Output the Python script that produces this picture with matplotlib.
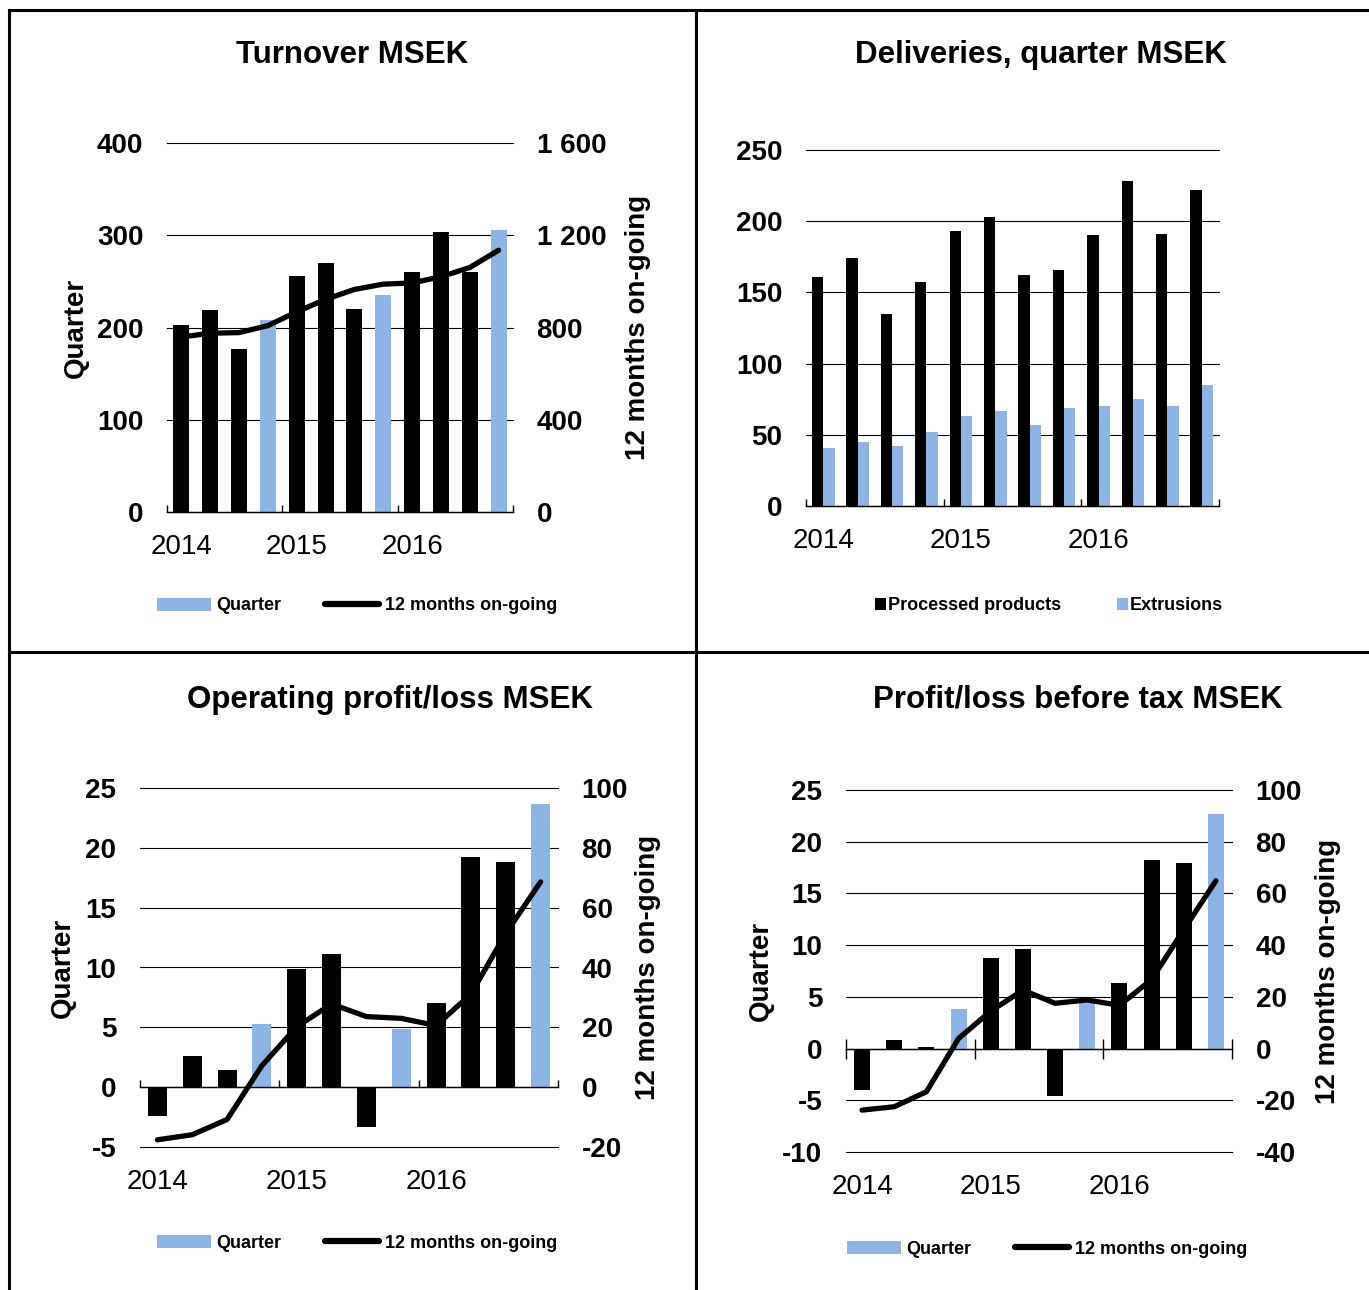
import numpy as np
import matplotlib
matplotlib.use("Agg")
import matplotlib.pyplot as plt
from matplotlib.lines import Line2D
from matplotlib.patches import Patch

plt.rcParams["font.family"] = ["Liberation Sans", "DejaVu Sans"]

# === data (MSEK per quarter, 2014 Q1 .. 2016 Q4) ===
years = ["2014", "2015", "2016"]

turnover_q = [203, 219, 177, 208, 256, 270, 220, 235, 260, 303, 260, 306]
turnover_12m = [759, 775, 778, 808, 868, 922, 965, 988, 993, 1020, 1060, 1135]

deliv_processed = [161, 174, 135, 157, 193, 203, 162, 166, 190, 228, 191, 222]
deliv_extrusions = [41, 45, 42, 52, 63, 67, 57, 69, 70, 75, 70, 85]

oper_q = [-2.4, 2.6, 1.4, 5.3, 9.9, 11.1, -3.3, 4.9, 7.0, 19.2, 18.8, 23.7]
oper_12m = [-17.6, -15.9, -10.8, 7.2, 20.2, 27.8, 23.6, 23.0, 20.6, 31.1, 51.4, 68.6]

ptax_q = [-4.0, 0.8, 0.2, 3.8, 8.8, 9.6, -4.6, 4.6, 6.3, 18.2, 17.9, 22.7]
ptax_12m = [-23.8, -22.5, -16.7, 3.9, 14.5, 22.6, 17.5, 18.8, 16.7, 26.7, 46.0, 64.9]

BLUE = "#8DB4E2"
W, H = 1369, 1290

fig = plt.figure(figsize=(W / 100, H / 100), dpi=100)


def px_rect(x0, y0, x1, y1):
    # pixel box -> figure fraction
    return [x0 / W, 1 - y1 / H, (x1 - x0) / W, (y1 - y0) / H]


def fmt(v):
    return f"{int(v):,}".replace(",", " ")


def base_axes(rect, ylim, step, year_pad=16, tick_dir="in", tick_len=5):
    ax = fig.add_axes(px_rect(*rect))
    n = 12
    ax.set_xlim(-0.5, n - 0.5)
    ax.set_ylim(*ylim)
    ticks = np.arange(ylim[0], ylim[1] + step / 2, step)
    ax.set_yticks(ticks)
    ax.set_yticklabels([fmt(t) for t in ticks], fontweight="bold")
    ax.grid(axis="y", color="black", lw=0.8)
    for gl in ax.get_ygridlines():
        gl.set_clip_on(False)
    ax.set_axisbelow(True)
    for s in ("left", "right", "top"):
        ax.spines[s].set_visible(False)
    ax.spines["bottom"].set_position(("data", 0))
    ax.spines["bottom"].set_linewidth(1.0)
    ax.tick_params(axis="y", length=0, pad=17, labelsize=20)
    ax.set_xticks([])
    ax.set_xticks([-0.5, 3.5, 7.5, 11.5], minor=True)
    ax.tick_params(axis="x", which="minor", direction=tick_dir, length=tick_len, width=1)
    sec = ax.secondary_xaxis("bottom")
    sec.set_xticks([0, 4, 8], years)
    sec.tick_params(length=0, pad=year_pad, labelsize=20)
    sec.spines["bottom"].set_visible(False)
    return ax


def right_axis(ax, ylim, step):
    ax2 = ax.twinx()
    ax2.set_ylim(*ylim)
    ticks = np.arange(ylim[0], ylim[1] + step / 2, step)
    ax2.set_yticks(ticks)
    ax2.set_yticklabels([fmt(t) for t in ticks], fontweight="bold")
    ax2.tick_params(axis="y", length=0, pad=17, labelsize=20)
    for s in ax2.spines.values():
        s.set_visible(False)
    return ax2


def quarter_colors(n):
    return [BLUE if i % 4 == 3 else "black" for i in range(n)]


def quarter_legend(cx, cy):
    handles = [Patch(facecolor=BLUE, edgecolor="none"),
               Line2D([], [], color="black", lw=4.5, solid_capstyle="round")]
    fig.legend(handles, ["Quarter", "12 months on-going"], loc="center",
               bbox_to_anchor=(cx / W, 1 - cy / H), ncol=2, frameon=False,
               prop={"size": 13, "weight": "bold"}, handlelength=3.0,
               handleheight=0.7, handletextpad=0.3, columnspacing=2.4)


def ylabels(ax, ax2, xl, xr):
    ax.set_ylabel("Quarter", fontsize=20, fontweight="bold")
    ax.yaxis.set_label_coords(xl, 0.5)
    ax2.set_ylabel("12 months on-going", fontsize=20, fontweight="bold")
    ax2.yaxis.set_label_coords(xr, 0.5)


def title(cx, cy, text):
    fig.text(cx / W, 1 - cy / H, text, ha="center", va="center", fontsize=22.5, fontweight="bold")


x = np.arange(12)
line_kw = dict(color="black", lw=3.8, solid_joinstyle="round", solid_capstyle="round")

# --- Turnover ---
ax = base_axes((167, 143, 513, 512), (0, 400), 100)
ax.bar(x, turnover_q, width=0.55, color=quarter_colors(12))
ax2 = right_axis(ax, (0, 1600), 400)
ax2.plot(x, turnover_12m, **line_kw)
ylabels(ax, ax2, -0.225, 1.324)
title(352, 55, "Turnover MSEK")
quarter_legend(357, 606)

# --- Deliveries ---
ax = base_axes((806, 150, 1219, 506), (0, 250), 50)
ax.bar(x - 0.165, deliv_processed, width=0.33, color="black")
ax.bar(x + 0.165, deliv_extrusions, width=0.33, color=BLUE)
title(1041, 55, "Deliveries, quarter MSEK")
fig.legend([Patch(facecolor="black"), Patch(facecolor=BLUE)],
           ["Processed products", "Extrusions"], loc="center",
           bbox_to_anchor=(1049 / W, 1 - 606 / H), ncol=2, frameon=False,
           prop={"size": 13, "weight": "bold"}, handlelength=0.6,
           handleheight=0.6, handletextpad=0.1, columnspacing=3.1)

# --- Operating profit/loss ---
ax = base_axes((140, 788, 558, 1147), (-5, 25), 5)
ax.bar(x, oper_q, width=0.55, color=quarter_colors(12))
ax2 = right_axis(ax, (-20, 100), 20)
ax2.plot(x, oper_12m, **line_kw)
ylabels(ax, ax2, -0.153, 1.184)
title(390, 700, "Operating profit/loss MSEK")
quarter_legend(357, 1243)

# --- Profit/loss before tax ---
ax = base_axes((846, 790, 1232, 1152), (-10, 25), 5, tick_dir="inout", tick_len=14)
ax.bar(x, ptax_q, width=0.5, color=quarter_colors(12))
ax2 = right_axis(ax, (-40, 100), 20)
ax2.plot(x, ptax_12m, **line_kw)
ylabels(ax, ax2, -0.187, 1.215)
title(1078, 700, "Profit/loss before tax MSEK")
quarter_legend(1047, 1249)

# --- panel frame lines ---
for (x0, y0, x1, y1) in [(9, 10, W, 10), (9, 10, 9, H), (696, 10, 696, H), (9, 652, W, 652)]:
    fig.add_artist(Line2D([x0 / W, x1 / W], [1 - y0 / H, 1 - y1 / H],
                          transform=fig.transFigure, color="black", lw=2.2))

fig.savefig("out.png", dpi=100)
